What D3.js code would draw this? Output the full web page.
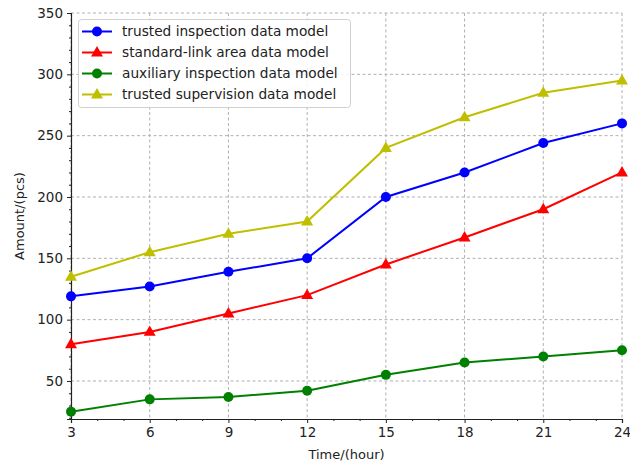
<!DOCTYPE html>
<html>
<head>
<meta charset="utf-8">
<script src="https://cdn.jsdelivr.net/npm/d3@7"></script>
<style>
  body { margin: 0; background: #fff; }
  text { font-family: 'DejaVu Sans', sans-serif; fill: #222; }
</style>
</head>
<body>
<div id="chart"></div>
<script>
// hours on the x axis
let hours = [3, 6, 9, 12, 15, 18, 21, 24]

// amounts
let trustedInspection = [119, 127, 139, 150, 200, 220, 244, 260]
let standardLink = [80, 90, 105, 120, 145, 167, 190, 220]
let auxiliaryInspection = [25, 35, 37, 42, 55, 65, 70, 75]
let trustedSupervision = [135, 155, 170, 180, 240, 265, 285, 295]

let seriesNames = [
  'trusted inspection data model',
  'standard-link area data model',
  'auxiliary inspection data model',
  'trusted supervision data model'
]
let seriesColors = ['#0000ff', '#ff0000', '#008000', '#bfbf00']
let seriesMarkers = ['circle', 'triangle', 'circle', 'triangle']
let yTicks = [50, 100, 150, 200, 250, 300, 350]

var width = 630
var height = 466
var margin = {top: 13, right: 8, bottom: 47, left: 71}

var allSeries = [trustedInspection, standardLink, auxiliaryInspection, trustedSupervision]

var x = d3.scaleLinear()
  .domain([3, 24])
  .range([margin.left, width - margin.right])

var y = d3.scaleLinear()
  .domain([19, 350])
  .range([height - margin.bottom, margin.top])

var svg = d3.select('#chart')
  .append('svg')
  .attr('width', width)
  .attr('height', height)

// grid lines
svg.append('g')
  .selectAll('line')
  .data(hours)
  .enter().append('line')
  .attr('x1', d => x(d)).attr('x2', d => x(d))
  .attr('y1', y(350)).attr('y2', y(19))
  .attr('stroke', '#b0b0b0').attr('stroke-width', 1)
  .attr('stroke-dasharray', '3,2.5')

svg.append('g')
  .selectAll('line')
  .data(yTicks)
  .enter().append('line')
  .attr('x1', x(3)).attr('x2', x(24))
  .attr('y1', d => y(d)).attr('y2', d => y(d))
  .attr('stroke', '#b0b0b0').attr('stroke-width', 1)
  .attr('stroke-dasharray', '3,2.5')

// axes
var xAxis = svg.append('g')
  .attr('transform', 'translate(0,' + y(19) + ')')
  .call(d3.axisBottom(x).tickValues(hours).tickSize(4).tickPadding(4).tickFormat(d3.format('d')))
var xMinor = svg.append('g')
  .attr('transform', 'translate(0,' + y(19) + ')')
  .call(d3.axisBottom(x).tickValues(d3.range(3, 25).filter(d => d % 3 !== 0)).tickSize(2).tickFormat(''))

var yAxis = svg.append('g')
  .attr('transform', 'translate(' + x(3) + ',0)')
  .call(d3.axisLeft(y).tickValues(yTicks).tickSize(4).tickPadding(4))
var yMinor = svg.append('g')
  .attr('transform', 'translate(' + x(3) + ',0)')
  .call(d3.axisLeft(y).tickValues(d3.range(20, 351, 10).filter(d => d % 50 !== 0)).tickSize(2).tickFormat(''))

svg.selectAll('.domain').attr('stroke', '#222').attr('stroke-width', 1.2)
svg.selectAll('.tick line').attr('stroke', '#222')
svg.selectAll('.tick text').style('font-size', '13.5px').attr('fill', '#222')
xMinor.select('.domain').remove()
yMinor.select('.domain').remove()

// axis labels
svg.append('text')
  .attr('x', (x(3) + x(24)) / 2)
  .attr('y', 459)
  .attr('text-anchor', 'middle')
  .style('font-size', '13px')
  .text('Time/(hour)')

svg.append('text')
  .attr('transform', 'translate(24,' + (y(19) + y(350)) / 2 + ') rotate(-90)')
  .attr('text-anchor', 'middle')
  .style('font-size', '13px')
  .text('Amount/(pcs)')

var line = d3.line()
  .x((d, i) => x(hours[i]))
  .y(d => y(d))

var triangle = d3.symbol().type(d3.symbolTriangle).size(62)

function drawMarker (g, kind, color, cx, cy) {
  if (kind === 'circle') {
    g.append('circle')
      .attr('cx', cx).attr('cy', cy).attr('r', 5)
      .attr('fill', color)
  } else {
    g.append('path')
      .attr('d', triangle)
      .attr('transform', 'translate(' + cx + ',' + (cy + 0.5) + ')')
      .attr('fill', color)
  }
}

// series
allSeries.forEach(function (data, s) {
  var g = svg.append('g')
  g.append('path')
    .datum(data)
    .attr('d', line)
    .attr('fill', 'none')
    .attr('stroke', seriesColors[s])
    .attr('stroke-width', 2)
  data.forEach(function (v, i) {
    drawMarker(g, seriesMarkers[s], seriesColors[s], x(hours[i]), y(v))
  })
})

// legend
var legend = svg.append('g')
legend.append('rect')
  .attr('x', 78.5).attr('y', 19.5)
  .attr('width', 272).attr('height', 88)
  .attr('rx', 3)
  .attr('fill', 'rgba(255,255,255,0.85)')
  .attr('stroke', '#d0d0d0')

seriesNames.forEach(function (name, s) {
  var ly = 31.5 + s * 21
  legend.append('line')
    .attr('x1', 82).attr('x2', 112)
    .attr('y1', ly).attr('y2', ly)
    .attr('stroke', seriesColors[s]).attr('stroke-width', 2)
  drawMarker(legend, seriesMarkers[s], seriesColors[s], 97, ly)
  legend.append('text')
    .attr('x', 122).attr('y', ly + 4.8)
    .style('font-size', '13.7px')
    .text(name)
})
</script>
</body>
</html>
